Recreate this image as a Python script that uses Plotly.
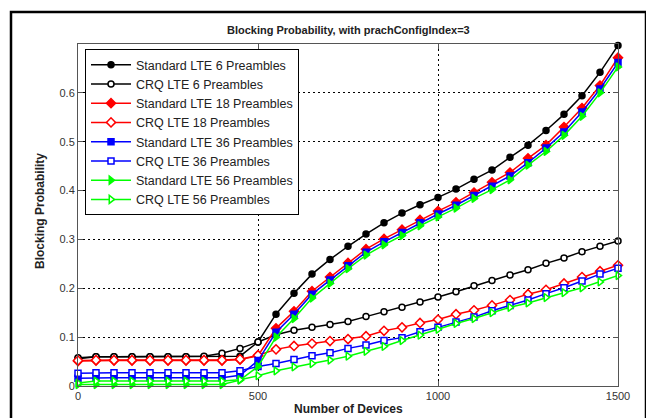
import plotly.graph_objects as go

devices = [0, 50, 100, 150, 200, 250, 300, 350, 400, 450, 500, 550, 600, 650, 700, 750,
           800, 850, 900, 950, 1000, 1050, 1100, 1150, 1200, 1250, 1300, 1350, 1400, 1450, 1500]

std_6 = [0.056, 0.060, 0.060, 0.060, 0.060, 0.060, 0.060, 0.060, 0.060, 0.061, 0.090,
         0.147, 0.190, 0.229, 0.259, 0.286, 0.311, 0.334, 0.354, 0.371, 0.386, 0.403,
         0.423, 0.442, 0.468, 0.493, 0.523, 0.556, 0.594, 0.642, 0.697]
crq_6 = [0.058, 0.060, 0.060, 0.060, 0.060, 0.060, 0.060, 0.061, 0.067, 0.077, 0.090,
         0.105, 0.114, 0.120, 0.126, 0.132, 0.142, 0.152, 0.161, 0.172, 0.182, 0.193,
         0.205, 0.216, 0.227, 0.238, 0.251, 0.262, 0.275, 0.286, 0.297]
std_18 = [0.051, 0.052, 0.052, 0.052, 0.052, 0.052, 0.052, 0.052, 0.052, 0.054, 0.062,
          0.118, 0.153, 0.194, 0.223, 0.252, 0.280, 0.301, 0.320, 0.340, 0.358, 0.376,
          0.396, 0.417, 0.437, 0.466, 0.493, 0.530, 0.569, 0.615, 0.672]
crq_18 = [0.052, 0.053, 0.053, 0.053, 0.053, 0.053, 0.053, 0.053, 0.053, 0.055, 0.063,
          0.075, 0.082, 0.087, 0.092, 0.096, 0.102, 0.113, 0.120, 0.129, 0.136, 0.147,
          0.155, 0.165, 0.176, 0.188, 0.197, 0.210, 0.223, 0.235, 0.247]
std_36 = [0.016, 0.017, 0.017, 0.017, 0.017, 0.017, 0.017, 0.017, 0.017, 0.022, 0.052,
          0.110, 0.147, 0.188, 0.217, 0.246, 0.274, 0.295, 0.314, 0.334, 0.352, 0.370,
          0.390, 0.409, 0.430, 0.457, 0.487, 0.520, 0.561, 0.608, 0.662]
crq_36 = [0.026, 0.027, 0.027, 0.027, 0.027, 0.027, 0.027, 0.027, 0.027, 0.031, 0.040,
          0.046, 0.054, 0.062, 0.068, 0.077, 0.084, 0.093, 0.099, 0.111, 0.120, 0.131,
          0.141, 0.154, 0.165, 0.176, 0.189, 0.201, 0.215, 0.229, 0.241]
std_56 = [0.003, 0.003, 0.003, 0.003, 0.003, 0.003, 0.003, 0.003, 0.003, 0.012, 0.040,
          0.100, 0.138, 0.180, 0.210, 0.240, 0.268, 0.289, 0.308, 0.328, 0.346, 0.364,
          0.384, 0.402, 0.422, 0.452, 0.480, 0.513, 0.552, 0.600, 0.653]
crq_56 = [0.006, 0.010, 0.010, 0.010, 0.010, 0.010, 0.010, 0.010, 0.010, 0.013, 0.021,
          0.031, 0.039, 0.046, 0.053, 0.061, 0.071, 0.081, 0.093, 0.104, 0.116, 0.128,
          0.138, 0.150, 0.161, 0.170, 0.181, 0.191, 0.201, 0.213, 0.226]

series_names = ["Standard LTE 6 Preambles", "CRQ LTE 6 Preambles",
                "Standard LTE 18 Preambles", "CRQ LTE 18 Preambles",
                "Standard LTE 36 Preambles", "CRQ LTE 36 Preambles",
                "Standard LTE 56 Preambles", "CRQ LTE 56 Preambles"]
series_values = [std_6, crq_6, std_18, crq_18, std_36, crq_36, std_56, crq_56]
series_colors = ["#000000", "#000000", "#ff0000", "#ff0000",
                 "#0000ff", "#0000ff", "#00ff00", "#00ff00"]
series_symbols = ["circle", "circle", "diamond", "diamond",
                  "square", "square", "triangle-right", "triangle-right"]
series_filled = [True, False, True, False, True, False, True, False]
marker_sizes = [6, 6, 7, 7, 6, 6, 7, 7]

title_text = "Blocking Probability, with prachConfigIndex=3"
x_title = "Number of Devices"
y_title = "Blocking Probability"
x_ticks = [0, 500, 1000, 1500]
y_ticks = [0, 0.1, 0.2, 0.3, 0.4, 0.5, 0.6]

fig = go.Figure()
for name, vals, col, sym, filled, ms in zip(series_names, series_values, series_colors,
                                             series_symbols, series_filled, marker_sizes):
    fig.add_trace(go.Scatter(
        x=devices, y=vals, name=name, mode="lines+markers",
        line=dict(color=col, width=1.5),
        marker=dict(symbol=sym, size=ms, color=col if filled else "white",
                    line=dict(color=col, width=1.5)),
        cliponaxis=False,
    ))

# The page body has an 8px margin; work in screen pixels and subtract it.
OFF = 8
W, H = 654 - OFF, 418 - OFF
PL, PR, PT, PB = 78, 618, 44, 386          # plot area in screen pixels
L, R, T, B = PL - OFF, W - (PR - OFF), PT - OFF, H - (PB - OFF)
pw, ph = PR - PL, PB - PT

def px(x):
    return (x - PL) / pw

def py(y):
    return (PB - y) / ph

axis_common = dict(
    showline=True, linecolor="#555555", linewidth=1, mirror="ticks",
    ticks="inside", ticklen=5, tickcolor="#555555",
    showgrid=True, gridcolor="#000000", gridwidth=1, griddash="2px,3px",
    zeroline=False, tickfont=dict(family="Liberation Sans, Arial", size=11, color="#333333"),
)

fig.update_layout(
    width=W, height=H,
    margin=dict(l=L, r=R, t=T, b=B),
    paper_bgcolor="white", plot_bgcolor="white",
    showlegend=True,
    legend=dict(x=px(85), y=py(49), xanchor="left", yanchor="top",
                bgcolor="white", bordercolor="#000000", borderwidth=1,
                font=dict(family="Liberation Sans, Arial", size=12.5, color="#222222"),
                tracegroupgap=0, itemwidth=40),
    xaxis=dict(range=[0, 1500], tickvals=x_ticks, **axis_common),
    yaxis=dict(range=[0, 0.7], tickvals=y_ticks, **axis_common),
    annotations=[
        dict(text="<b>" + title_text + "</b>", xref="paper", yref="paper",
             x=0.5, y=py(30), xanchor="center", yanchor="middle", showarrow=False,
             font=dict(family="Liberation Sans, Arial", size=11, color="#222222")),
        dict(text="<b>" + x_title + "</b>", xref="paper", yref="paper",
             x=0.5, y=py(409), xanchor="center", yanchor="middle", showarrow=False,
             font=dict(family="Liberation Sans, Arial", size=12, color="#222222")),
        dict(text="<b>" + y_title + "</b>", xref="paper", yref="paper",
             x=px(40), y=py(211), xanchor="center", yanchor="middle", showarrow=False,
             textangle=-90,
             font=dict(family="Liberation Sans, Arial", size=12, color="#222222")),
    ],
    shapes=[
        dict(type="rect", xref="paper", yref="paper",
             x0=px(11), x1=px(646), y0=py(440), y1=py(12),
             line=dict(color="#000000", width=2.5), fillcolor="rgba(0,0,0,0)", layer="below"),
    ],
)

fig.write_html("out.html")
